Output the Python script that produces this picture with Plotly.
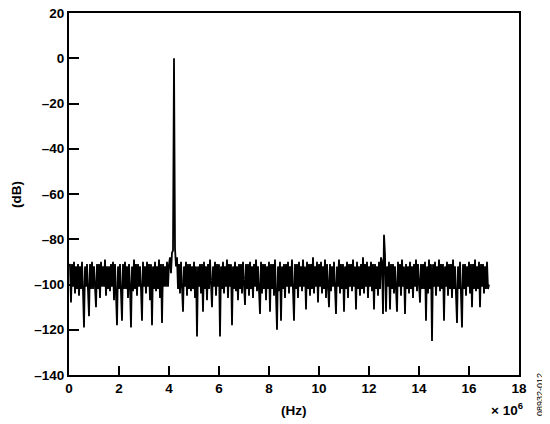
import numpy as np
import plotly.graph_objects as go

# FFT output level per bin (one bin per 40 kHz, 0 to 16.8 MHz)
bin_width_hz = 40e3
level_db = [
    -92, -91, -108, -91, -101, -90, -104, -92, -102, -91, -105, -92, -102, -90, -103, -119, -92, -101, -91, -101, -114, -91, -102, -90, -102,
    -92, -104, -110, -91, -102, -91, -106, -90, -101, -92, -101, -89, -105, -92, -102, -92, -103, -91, -101, -90, -107, -91, -101, -118, -92,
    -102, -91, -104, -116, -91, -102, -90, -102, -92, -106, -91, -101, -119, -92, -103, -89, -102, -91, -105, -91, -101, -92, -102, -116, -90,
    -101, -92, -104, -90, -101, -91, -107, -91, -118, -92, -102, -90, -103, -92, -102, -89, -106, -91, -117, -91, -101, -92, -101, -90, -101,
    -91, -88, -95, -86, -85, 0, -84, -92, -88, -102, -91, -104, -90, -101, -112, -92, -101, -90, -105, -91, -102, -91, -103, -92, -102,
    -90, -106, -92, -123, -92, -101, -91, -104, -91, -112, -90, -102, -92, -107, -91, -102, -89, -103, -110, -92, -101, -90, -105, -91, -101,
    -91, -123, -92, -102, -90, -104, -92, -101, -89, -106, -91, -101, -91, -118, -92, -102, -90, -103, -92, -107, -91, -102, -91, -104, -90,
    -101, -109, -91, -102, -91, -105, -90, -102, -92, -106, -91, -101, -89, -103, -92, -101, -113, -90, -104, -91, -102, -91, -107, -92, -102,
    -90, -112, -91, -102, -91, -105, -89, -102, -120, -92, -103, -90, -116, -92, -102, -91, -106, -91, -101, -90, -104, -92, -101, -89, -105,
    -116, -91, -102, -91, -106, -90, -101, -92, -103, -89, -101, -92, -111, -90, -102, -91, -105, -91, -102, -88, -104, -92, -101, -90, -108,
    -91, -101, -90, -104, -92, -102, -89, -106, -91, -102, -110, -91, -103, -92, -101, -90, -105, -113, -92, -101, -89, -104, -91, -102, -91,
    -112, -92, -102, -90, -106, -91, -101, -91, -103, -89, -101, -92, -111, -90, -102, -92, -105, -91, -102, -88, -104, -91, -101, -90, -106,
    -92, -101, -90, -103, -91, -111, -91, -102, -92, -105, -90, -102, -88, -90, -113, -78, -87, -112, -92, -101, -90, -111, -91, -102, -91,
    -104, -92, -102, -112, -90, -101, -91, -105, -89, -101, -92, -113, -91, -102, -92, -104, -90, -102, -92, -106, -91, -101, -89, -103, -91,
    -102, -108, -91, -102, -91, -102, -90, -116, -92, -104, -89, -102, -91, -125, -91, -101, -90, -105, -92, -101, -89, -103, -91, -102, -91,
    -116, -92, -101, -90, -105, -91, -102, -91, -106, -89, -102, -92, -103, -117, -92, -102, -90, -104, -119, -91, -102, -91, -105, -92, -101,
    -90, -104, -91, -110, -91, -102, -89, -103, -92, -102, -90, -110, -91, -101, -91, -104, -92, -102, -90, -102, -100,
]
freq_hz = np.arange(len(level_db)) * bin_width_hz

x_ticks = [0, 2, 4, 6, 8, 10, 12, 14, 16, 18]
y_ticks = [20, 0, -20, -40, -60, -80, -100, -120, -140]

font_family = "Liberation Sans, Arial, sans-serif"

# the page body adds an 8px offset, so the figure is 8px smaller and the margins shifted
page_off = 8
plot_left, plot_right, plot_top, plot_bottom = 69, 519, 13, 375  # page pixels

fig = go.Figure()
fig.add_trace(go.Scatter(
    x=freq_hz, y=level_db, mode="lines",
    line=dict(color="black", width=1.8),
    showlegend=False, hoverinfo="skip",
))

fig.update_layout(
    width=550 - page_off, height=424 - page_off,
    margin=dict(l=plot_left - page_off, r=550 - plot_right, t=plot_top - page_off,
                b=424 - plot_bottom, pad=0, autoexpand=False),
    paper_bgcolor="white", plot_bgcolor="white",
    font=dict(family=font_family, color="black", size=14, weight="bold"),
    xaxis=dict(
        range=[0, 18e6],
        tickvals=[v * 1e6 for v in x_ticks],
        ticktext=[str(v) for v in x_ticks],
        ticks="inside", ticklen=9, tickwidth=1.5, tickcolor="black",
        showline=True, mirror=True, linecolor="black", linewidth=2,
        showgrid=False, zeroline=False, automargin=False,
        ticklabeloverflow="allow",
        tickfont=dict(size=13.5, weight="bold"),
    ),
    yaxis=dict(
        range=[-140, 20],
        tickvals=y_ticks,
        ticktext=[str(v).replace("-", "\u2013") for v in y_ticks],
        ticks="inside", ticklen=10, tickwidth=1.5, tickcolor="black",
        showline=True, mirror=True, linecolor="black", linewidth=2,
        showgrid=False, zeroline=False, automargin=False,
        ticklabeloverflow="allow",
        tickfont=dict(size=13.5, weight="bold"),
    ),
)

plot_w = plot_right - plot_left
plot_h = plot_bottom - plot_top


def add_label(text, px, py, angle=0, size=14, weight="bold"):
    # px, py are page pixels of the text centre
    fig.add_annotation(
        text=text, x=(px - plot_left) / plot_w, y=(plot_bottom - py) / plot_h,
        xref="paper", yref="paper", xanchor="center", yanchor="middle",
        textangle=angle, showarrow=False,
        font=dict(size=size, weight=weight),
    )


add_label("(Hz)", 294, 410, size=13.5)
add_label("(dB)", 17, 195, angle=-90, size=13.5)
add_label("\u00d7 10<sup>6</sup>", 507, 409, size=13.5)
add_label("08932-012", 540, 395, angle=-90, size=9, weight="normal")

fig.write_html("out.html")
